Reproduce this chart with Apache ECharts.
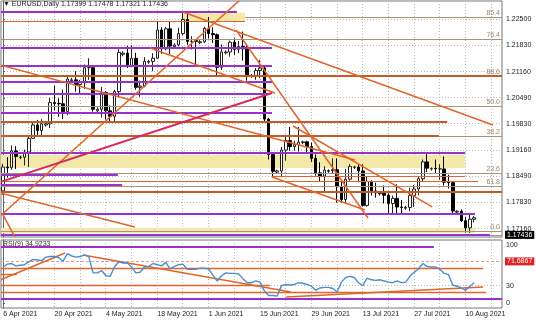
<!DOCTYPE html>
<html><head><meta charset="utf-8">
<script src="https://cdn.jsdelivr.net/npm/echarts@6/dist/echarts.min.js"></script>
<style>html,body{margin:0;padding:0;background:#fff}#c{width:536px;height:321px}</style>
</head><body><div id="c"></div>
<script>
// ---------- DATA ----------
const dates = ("6 Apr,7 Apr,8 Apr,9 Apr,11 Apr,12 Apr,13 Apr,14 Apr,15 Apr,16 Apr,18 Apr,19 Apr," +
"20 Apr,21 Apr,22 Apr,23 Apr,25 Apr,26 Apr,27 Apr,28 Apr,29 Apr,30 Apr,2 May,3 May," +
"4 May,5 May,6 May,7 May,9 May,10 May,11 May,12 May,13 May,14 May,16 May,17 May," +
"18 May,19 May,20 May,21 May,23 May,24 May,25 May,26 May,27 May,28 May,30 May,31 May," +
"1 Jun,2 Jun,3 Jun,4 Jun,6 Jun,7 Jun,8 Jun,9 Jun,10 Jun,11 Jun,13 Jun,14 Jun," +
"15 Jun,16 Jun,17 Jun,18 Jun,20 Jun,21 Jun,22 Jun,23 Jun,24 Jun,25 Jun,27 Jun,28 Jun," +
"29 Jun,30 Jun,1 Jul,2 Jul,4 Jul,5 Jul,6 Jul,7 Jul,8 Jul,9 Jul,11 Jul,12 Jul," +
"13 Jul,14 Jul,15 Jul,16 Jul,18 Jul,19 Jul,20 Jul,21 Jul,22 Jul,23 Jul,25 Jul,26 Jul," +
"27 Jul,28 Jul,29 Jul,30 Jul,1 Aug,2 Aug,3 Aug,4 Aug,5 Aug,6 Aug,8 Aug,9 Aug," +
"10 Aug,11 Aug,12 Aug").split(',');

// [open, close, low, high]
const candles = [
[1.1812,1.1873,1.1802,1.1881],[1.1873,1.1871,1.1846,1.1898],[1.1871,1.1914,1.1866,1.1928],[1.1914,1.1900,1.1868,1.1926],
[1.1897,1.1898,1.1893,1.1902],[1.1898,1.1911,1.1877,1.1917],[1.1911,1.1946,1.1873,1.1950],[1.1946,1.1980,1.1945,1.1990],
[1.1980,1.1966,1.1955,1.1993],[1.1966,1.1983,1.1951,1.1995],[1.1980,1.1983,1.1976,1.1986],[1.1983,1.2037,1.1972,1.2049],
[1.2037,1.2035,1.2017,1.2080],[1.2035,1.2034,1.2001,1.2048],[1.2034,1.2014,1.1995,1.2070],[1.2014,1.2097,1.2005,1.2103],
[1.2093,1.2095,1.2088,1.2100],[1.2095,1.2083,1.2065,1.2117],[1.2083,1.2089,1.2058,1.2095],[1.2089,1.2126,1.2072,1.2134],
[1.2126,1.2126,1.2095,1.2150],[1.2126,1.2020,1.2014,1.2128],[1.2016,1.2020,1.2012,1.2025],[1.2020,1.2063,1.1999,1.2077],
[1.2063,1.2016,1.1994,1.2066],[1.2016,1.2002,1.1987,1.2030],[1.2002,1.2065,1.1986,1.2070],[1.2065,1.2165,1.2052,1.2173],
[1.2160,1.2163,1.2155,1.2168],[1.2163,1.2132,1.2125,1.2181],[1.2132,1.2150,1.2128,1.2183],[1.2150,1.2076,1.2070,1.2164],
[1.2076,1.2079,1.2052,1.2093],[1.2079,1.2142,1.2076,1.2153],[1.2140,1.2142,1.2136,1.2146],[1.2142,1.2150,1.2117,1.2163],
[1.2150,1.2222,1.2150,1.2245],[1.2222,1.2174,1.2161,1.2229],[1.2174,1.2225,1.2170,1.2230],[1.2225,1.2181,1.2161,1.2244],
[1.2180,1.2184,1.2176,1.2188],[1.2184,1.2213,1.2180,1.2228],[1.2213,1.2249,1.2208,1.2266],[1.2249,1.2193,1.2184,1.2263],
[1.2193,1.2193,1.2172,1.2206],[1.2195,1.2193,1.2133,1.2197],[1.2190,1.2192,1.2186,1.2196],[1.2192,1.2226,1.2189,1.2230],
[1.2226,1.2213,1.2200,1.2255],[1.2213,1.2210,1.2189,1.2229],[1.2210,1.2127,1.2104,1.2213],[1.2127,1.2166,1.2120,1.2185],
[1.2164,1.2166,1.2160,1.2170],[1.2166,1.2191,1.2154,1.2195],[1.2191,1.2173,1.2159,1.2201],[1.2173,1.2180,1.2163,1.2194],
[1.2180,1.2174,1.2144,1.2218],[1.2174,1.2108,1.2093,1.2183],[1.2104,1.2106,1.2100,1.2110],[1.2106,1.2119,1.2095,1.2125],
[1.2119,1.2125,1.2100,1.2146],[1.2125,1.1995,1.1990,1.2130],[1.1995,1.1905,1.1892,1.1998],[1.1905,1.1862,1.1847,1.1910],
[1.1860,1.1863,1.1855,1.1866],[1.1863,1.1916,1.1847,1.1924],[1.1916,1.1940,1.1889,1.1955],[1.1940,1.1925,1.1914,1.1975],
[1.1925,1.1930,1.1915,1.1940],[1.1930,1.1936,1.1912,1.1975],[1.1935,1.1937,1.1931,1.1940],[1.1937,1.1925,1.1910,1.1940],
[1.1925,1.1895,1.1886,1.1935],[1.1895,1.1858,1.1851,1.1905],[1.1858,1.1850,1.1835,1.1885],[1.1850,1.1865,1.1807,1.1875],
[1.1862,1.1864,1.1858,1.1867],[1.1864,1.1866,1.1855,1.1895],[1.1866,1.1823,1.1782,1.1895],[1.1823,1.1790,1.1782,1.1840],
[1.1790,1.1842,1.1782,1.1868],[1.1842,1.1874,1.1838,1.1880],[1.1872,1.1873,1.1868,1.1876],[1.1873,1.1863,1.1834,1.1881],
[1.1863,1.1775,1.1772,1.1880],[1.1775,1.1836,1.1772,1.1848],[1.1836,1.1812,1.1800,1.1839],[1.1812,1.1807,1.1795,1.1833],
[1.1805,1.1806,1.1800,1.1810],[1.1806,1.1801,1.1780,1.1826],[1.1801,1.1780,1.1755,1.1806],[1.1780,1.1793,1.1752,1.1800],
[1.1793,1.1771,1.1754,1.1829],[1.1771,1.1770,1.1755,1.1789],[1.1768,1.1770,1.1764,1.1774],[1.1770,1.1800,1.1760,1.1820],
[1.1800,1.1817,1.1771,1.1827],[1.1817,1.1843,1.1801,1.1849],[1.1843,1.1886,1.1837,1.1892],[1.1886,1.1870,1.1860,1.1909],
[1.1868,1.1869,1.1864,1.1872],[1.1869,1.1868,1.1855,1.1892],[1.1868,1.1868,1.1840,1.1880],[1.1868,1.1834,1.1826,1.1900],
[1.1834,1.1833,1.1818,1.1853],[1.1833,1.1761,1.1755,1.1837],[1.1758,1.1760,1.1754,1.1763],[1.1760,1.1736,1.1733,1.1765],
[1.1736,1.1718,1.1706,1.1746],[1.1718,1.1740,1.1705,1.1753],[1.17399,1.17436,1.17321,1.17478]
];

const rsi = [
62,67,68,64,65,66,71,75,74,73,
79,80,80,78,72,85,81,79,80,83,
80,52,52,56,47,46,62,71,69,69,
62,52,53,62,63,68,66,64,70,59,
63,66,67,58,58,58,60,60,59,48,
38,47,52,51,51,50,42,35,35,38,
36,21,13,13,12,30,32,31,32,35,
34,32,29,22,26,27,27,25,19,36,
44,46,44,35,30,43,40,39,40,38,
36,35,38,35,36,46,53,59,68,63,
62,62,58,51,49,31,29,26,22,29,
34.92
];

const currentBar = [1.17399, 1.17478, 1.17321, 1.17436];   // O H L C
const rsiCurrent = 34.9233;
const rsiMarkLevel = 71.6867;
const priceTicks = [1.2250, 1.2183, 1.2116, 1.2049, 1.1983, 1.1916, 1.1849, 1.1783, 1.1716];
const rsiTicks = [0, 30, 100];
const dateTicks = ['6 Apr','20 Apr','4 May','18 May','1 Jun','15 Jun','29 Jun','13 Jul','27 Jul','10 Aug'];

// horizontal levels: [price, fromBar, toBar]
const purpleLevels = [
[1.22686,-0.7,54.6],[1.21754,-0.7,62.8],[1.21315,-0.7,62.8],[1.20903,-0.7,62.8],[1.20589,-0.7,62.3],
[1.20113,-0.7,62.8],[1.19079,-0.7,107.9],[1.18526,-0.7,26.8],[1.18271,-0.7,27.8],[1.17532,-0.7,110.2],[1.16985,-0.7,113.7]
];
const orangeThickLevels = [[1.21048,-0.7,116.6],[1.19884,-0.7,103.7],[1.19519,-0.7,101.8],[1.18100,-0.7,116.6]];
const orangeThinLevels = [[1.22431,-0.7,56.5],[1.18475,62.8,107.9],[1.18355,-0.7,110.9]];
const fibLevels = [[1.22543,56.5],[1.21983,-0.7],[1.21048,-0.7],[1.20266,-0.7],[1.19502,-0.7],[1.18569,-0.7],[1.18228,-0.7],[1.17074,-0.7]];
const fibLabels = ['85.4','76.4','88.6','50.0','38.2','23.6','61.8','0.0'];
// zones: [fromBar, priceTop, toBar, priceBottom]
const zones = [[42.0,1.22660,56.5,1.22431],[-0.7,1.19036,107.9,1.18704],[-0.7,1.17175,110.2,1.17048]];
// trend lines: [bar1, price1, bar2, price2]
const trendLines = [
[42.0,1.22678,114.4,1.19800],[-0.7,1.17481,55.3,1.22984],[-0.7,1.21328,82.2,1.18908],[54.4,1.22220,85.2,1.17430],
[34.3,1.21761,63.5,1.20615],[67.7,1.19774,100.2,1.17711],[62.8,1.18475,84.5,1.17634],[-0.7,1.18067,30.8,1.17201],
[-0.03,1.17507,2.77,1.16946]
];
const crimsonLines = [[-0.7,1.18348,62.8,1.20615]];
// RSI window objects
const rsiPurpleLevels = [[97.0,-0.7,100.6],[6.5,-0.7,116.6]];
const rsiOrangeLevels = [[60.3,-0.7,112.1],[29.4,-0.7,62.3],[17.8,-0.7,112.8],[50.0,-0.7,3.2]];
const rsiTrendLines = [[-0.7,39.7,14.45,86.1],[18.65,82.7,67.2,19.0],[66.1,10.4,112.1,27.6]];

// ---------- CHART ----------
const FONT = 'Liberation Sans';
const N = 117;
const cats = dates.map(d => d + ' 2021');
while (cats.length < N) cats.push('');
const tickSet = new Set(dateTicks.map(d => d + ' 2021'));
const vGrid = [];
for (let k = 0; k < N; k += 6) vGrid.push([k]);

const PURPLE = '#9932CC', ORANGE = '#E0652A', BROWN = '#C65A25', FIB = '#A8937A', CRIMSON = '#D42A5C';

function crisp(v, w) { return w % 2 ? Math.round(v - 0.5) + 0.5 : Math.round(v); }

function hLines(data, xi, yi, color, width, z, dash) {
  return { type: 'custom', xAxisIndex: xi, yAxisIndex: yi, z: z, silent: true, clip: true, data: data,
    renderItem(params, api) {
      const a = api.coord([api.value(1), api.value(0)]);
      const b = api.coord([api.value(2), api.value(0)]);
      const y = crisp(a[1], width);
      return { type: 'line', shape: { x1: a[0], y1: y, x2: b[0], y2: y },
        style: { stroke: color, lineWidth: width, lineDash: dash || null } };
    } };
}
function segs(data, xi, yi, color, width, z) {
  return { type: 'custom', xAxisIndex: xi, yAxisIndex: yi, z: z, silent: true, clip: true, data: data,
    renderItem(params, api) {
      const a = api.coord([api.value(0), api.value(1)]);
      const b = api.coord([api.value(2), api.value(3)]);
      return { type: 'line', shape: { x1: a[0], y1: a[1], x2: b[0], y2: b[1] },
        style: { stroke: color, lineWidth: width } };
    } };
}
function vGridSeries(xi, yi) {
  return { type: 'custom', xAxisIndex: xi, yAxisIndex: yi, z: 0, silent: true, clip: true, data: vGrid,
    renderItem(params, api) {
      const cs = params.coordSys;
      const x = crisp(api.coord([api.value(0), 0])[0], 1);
      return { type: 'line', shape: { x1: x, y1: cs.y, x2: x, y2: cs.y + cs.height },
        style: { stroke: '#b8b8b8', lineWidth: 1, lineDash: [1, 2] } };
    } };
}
function hGridSeries(vals, xi, yi) {
  return { type: 'custom', xAxisIndex: xi, yAxisIndex: yi, z: 0, silent: true, clip: true, data: vals.map(v => [v]),
    renderItem(params, api) {
      const cs = params.coordSys;
      const y = crisp(api.coord([0, api.value(0)])[1], 1);
      return { type: 'line', shape: { x1: cs.x, y1: y, x2: cs.x + cs.width, y2: y },
        style: { stroke: '#b8b8b8', lineWidth: 1, lineDash: [1, 2] } };
    } };
}

const chart = echarts.init(document.getElementById('c'));
chart.setOption({
  animation: false,
  backgroundColor: '#fff',
  textStyle: { fontFamily: FONT },
  grid: [
    { left: 1, top: 1, width: 501, height: 236, show: true, borderColor: '#777', borderWidth: 1, backgroundColor: '#fff' },
    { left: 1, top: 240, width: 501, height: 68, show: true, borderColor: '#777', borderWidth: 1, backgroundColor: '#fff' }
  ],
  xAxis: [
    { type: 'category', gridIndex: 0, data: cats, boundaryGap: true, show: false },
    { type: 'category', gridIndex: 1, data: cats, boundaryGap: true,
      axisLine: { show: false }, axisTick: { show: false }, splitLine: { show: false },
      axisLabel: { interval: 0, align: 'left', margin: 3, fontSize: 7, fontFamily: FONT, color: '#222',
        formatter: v => tickSet.has(v) ? v : '' } },
    { type: 'value', gridIndex: 0, min: -0.5, max: N - 0.5, show: false },
    { type: 'value', gridIndex: 1, min: -0.5, max: N - 0.5, show: false }
  ],
  yAxis: [
    { type: 'value', gridIndex: 0, position: 'right', min: 1.16946, max: 1.22959, scale: true,
      axisLine: { show: true, lineStyle: { color: '#666' } }, splitLine: { show: false },
      axisTick: { show: true, customValues: priceTicks, length: 2, lineStyle: { color: '#666' } },
      axisLabel: { customValues: priceTicks, formatter: v => v.toFixed(5), fontSize: 7, fontFamily: FONT, color: '#222', margin: 4 } },
    { type: 'value', gridIndex: 1, position: 'right', min: -8.5, max: 108.5,
      axisLine: { show: true, lineStyle: { color: '#666' } }, splitLine: { show: false },
      axisTick: { show: true, customValues: rsiTicks, length: 2, lineStyle: { color: '#666' } },
      axisLabel: { customValues: rsiTicks, formatter: v => String(v), fontSize: 7, fontFamily: FONT, color: '#222', margin: 4 } }
  ],
  graphic: [
    { type: 'text', left: 3, top: 1, z: 100, style: { text: '\u25BC EURUSD,Daily ' + currentBar.map(v => v.toFixed(5)).join(' '), font: '7px ' + FONT, fill: '#222' } },
    { type: 'text', left: 3, top: 241, z: 100, style: { text: 'RSI(9) ' + rsiCurrent.toFixed(4), font: '7px ' + FONT, fill: '#333' } }
  ],
  series: [
    vGridSeries(2, 0), vGridSeries(3, 1),
    hGridSeries(priceTicks, 2, 0), hGridSeries([30], 3, 1),
    { type: 'custom', xAxisIndex: 2, yAxisIndex: 0, z: 1, silent: true, clip: true, data: zones,
      renderItem(params, api) {
        const a = api.coord([api.value(0), api.value(1)]);
        const b = api.coord([api.value(2), api.value(3)]);
        return { type: 'rect', shape: { x: a[0], y: a[1], width: b[0] - a[0], height: b[1] - a[1] }, style: { fill: '#F4E8A8' } };
      } },
    { type: 'candlestick', xAxisIndex: 0, yAxisIndex: 0, z: 3, data: candles, barWidth: 3,
      itemStyle: { color: '#ffffff', color0: '#000000', borderColor: '#222', borderColor0: '#000', borderWidth: 1 },
      markLine: { symbol: 'none', silent: true, animation: false, data: [{ yAxis: currentBar[3] }],
        lineStyle: { color: '#a0a0a0', width: 1, type: 'solid' },
        label: { position: 'end', formatter: currentBar[3].toFixed(5), color: '#fff', backgroundColor: '#000',
          padding: [1, 2, 0, 2], fontSize: 7, fontFamily: FONT, distance: 3 } } },
    { type: 'custom', xAxisIndex: 2, yAxisIndex: 0, z: 4, silent: true, clip: false, data: fibLevels,
      renderItem(params, api) {
        const cs = params.coordSys;
        const a = api.coord([api.value(1), api.value(0)]);
        const y = crisp(a[1], 1);
        const x1 = Math.max(a[0], cs.x);
        return { type: 'group', children: [
          { type: 'line', shape: { x1: x1, y1: y, x2: cs.x + cs.width, y2: y }, style: { stroke: FIB, lineWidth: 1 } },
          { type: 'text', x: cs.x + cs.width - 2, y: y - 1, style: { text: fibLabels[params.dataIndex], align: 'right', verticalAlign: 'bottom', font: '7px ' + FONT, fill: '#A0845F' } }
        ] };
      } },
    hLines(orangeThinLevels, 2, 0, ORANGE, 1, 5),
    hLines(orangeThickLevels, 2, 0, BROWN, 2, 5),
    hLines(purpleLevels, 2, 0, PURPLE, 2, 5),
    segs(trendLines, 2, 0, ORANGE, 1.5, 6),
    segs(crimsonLines, 2, 0, CRIMSON, 2, 6),
    hLines(rsiOrangeLevels, 3, 1, ORANGE, 1.5, 5),
    hLines(rsiPurpleLevels, 3, 1, PURPLE, 2, 5),
    segs(rsiTrendLines, 3, 1, ORANGE, 1.5, 6),
    { type: 'line', xAxisIndex: 1, yAxisIndex: 1, z: 7, data: rsi, symbol: 'none', smooth: false,
      lineStyle: { color: '#4A8FCB', width: 1.4 },
      markLine: { symbol: 'none', silent: true, animation: false, data: [{ yAxis: rsiMarkLevel }],
        lineStyle: { color: '#E79A9A', width: 1, type: [3, 2] },
        label: { position: 'end', formatter: rsiMarkLevel.toFixed(4), color: '#fff', backgroundColor: '#E02424',
          padding: [1, 2, 0, 2], fontSize: 7, fontFamily: FONT, distance: 3 } } }
  ]
});
</script>
</body></html>
